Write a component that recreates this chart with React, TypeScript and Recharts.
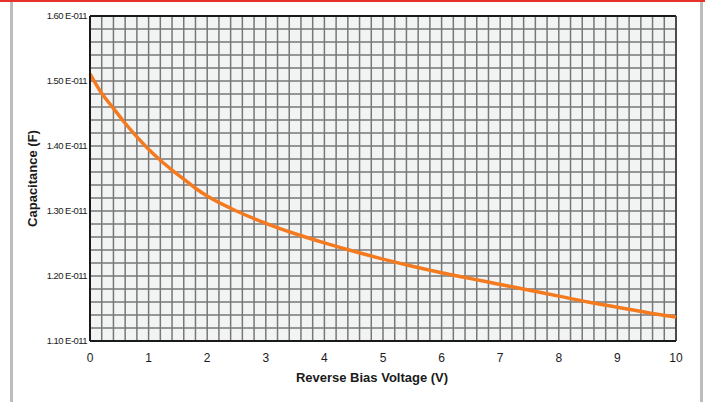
import { CartesianGrid, Line, LineChart, ReferenceLine, XAxis, YAxis } from "recharts";

// capacitance in units of 1E-11 F
const voltage = [0, 0.2, 0.4, 0.6, 0.8, 1, 1.2, 1.4, 1.6, 1.8, 2, 2.5, 3, 3.5, 4, 4.5, 5, 5.5, 6, 6.5, 7, 7.5, 8, 8.5, 9, 9.5, 10];
const capacitance = [
  1.511, 1.481, 1.458, 1.435, 1.414, 1.395, 1.378, 1.363, 1.349, 1.335, 1.323, 1.3, 1.281, 1.265,
  1.251, 1.238, 1.226, 1.215, 1.205, 1.196, 1.187, 1.178, 1.169, 1.16, 1.152, 1.144, 1.137,
];
const xTicks = [0, 1, 2, 3, 4, 5, 6, 7, 8, 9, 10];
const yTicks = [1.1, 1.2, 1.3, 1.4, 1.5, 1.6];

const GRID_X_STEPS = 50; // 0.2 V per cell
const GRID_Y_STEPS = 25; // 0.02 E-011 per cell

const CURVE_COLOR = "#f47a20";
const GRID_COLOR = "#777777";
const PLOT_BG = "#f2f4f4";
const FONT = "'Liberation Sans', Arial, Helvetica, sans-serif";

const data = voltage.map((v, i) => ({ v, c: capacitance[i] }));

export default function App() {
  return (
    <div
      style={{
        position: "fixed",
        left: 0,
        top: 0,
        width: 705,
        height: 402,
        background: "#ffffff",
        overflow: "hidden",
      }}
    >
      <div style={{ position: "absolute", left: 0, top: 0, width: 705, height: 2, background: "#e8312a" }} />
      <div style={{ position: "absolute", left: 10, top: 2, width: 3, height: 400, background: "#bdbdbd" }} />
      <div style={{ position: "absolute", left: 700, top: 2, width: 3, height: 400, background: "#bdbdbd" }} />
      <div style={{ position: "absolute", left: 0, top: 0 }}>
        <LineChart width={705} height={402} data={data} margin={{ top: 16, right: 29, left: 10, bottom: 31 }}>
          <CartesianGrid
            fill={PLOT_BG}
            stroke={GRID_COLOR}
            strokeWidth={1.5}
            verticalCoordinatesGenerator={({ offset }: any) =>
              Array.from({ length: GRID_X_STEPS + 1 }, (_, i) => offset.left + (i * offset.width) / GRID_X_STEPS)
            }
            horizontalCoordinatesGenerator={({ offset }: any) =>
              Array.from({ length: GRID_Y_STEPS + 1 }, (_, i) => offset.top + (i * offset.height) / GRID_Y_STEPS)
            }
          />
          <XAxis
            dataKey="v"
            type="number"
            domain={[0, 10]}
            ticks={xTicks}
            height={30}
            tickLine={false}
            tickSize={6}
            tickMargin={6}
            axisLine={{ stroke: "#1a1a1a", strokeWidth: 2 }}
            tick={{ fill: "#1a1a1a", fontSize: 12, fontFamily: FONT }}
            label={{
              value: "Reverse Bias Voltage (V)",
              position: "bottom",
              offset: 2,
              dx: -11,
              style: { fill: "#1a1a1a", fontSize: 13, fontWeight: 700, fontFamily: FONT },
            }}
          />
          <YAxis
            type="number"
            domain={[1.1, 1.6]}
            ticks={yTicks}
            width={80}
            tickLine={false}
            tickSize={0}
            tickMargin={3}
            axisLine={{ stroke: "#1a1a1a", strokeWidth: 2 }}
            tick={{ fill: "#1a1a1a", fontSize: 9.5, fontFamily: FONT, letterSpacing: -0.55 }}
            tickFormatter={(value: number) => `${value.toFixed(2)} E-011`}
            label={{
              value: "Capacitance (F)",
              angle: -90,
              position: "insideLeft",
              offset: 22,
              style: { textAnchor: "middle", fill: "#1a1a1a", fontSize: 13, fontWeight: 700, fontFamily: FONT },
            }}
          />
          <ReferenceLine y={1.6} stroke="#1a1a1a" strokeWidth={2} />
          <ReferenceLine x={10} stroke="#333333" strokeWidth={1.5} />
          <Line
            type="monotone"
            dataKey="c"
            stroke={CURVE_COLOR}
            strokeWidth={3.5}
            dot={false}
            activeDot={false}
            isAnimationActive={false}
          />
        </LineChart>
      </div>
    </div>
  );
}
